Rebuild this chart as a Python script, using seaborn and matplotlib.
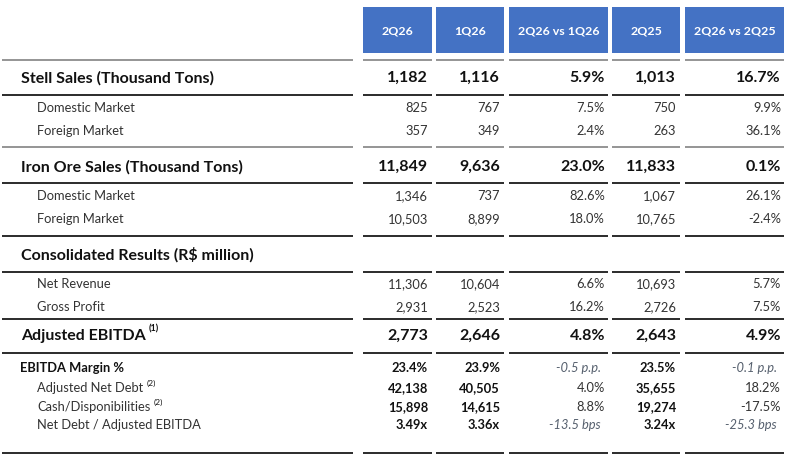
import matplotlib
matplotlib.use("Agg")
import matplotlib.pyplot as plt
import seaborn as sns
from matplotlib.patches import Rectangle

sns.set_theme(style="white")
plt.rcParams['font.family'] = ['Lato', 'DejaVu Sans']

# table content
headers = ['2Q26', '1Q26', '2Q26 vs 1Q26', '2Q25', '2Q26 vs 2Q25']
labels = ['Stell Sales (Thousand Tons)', 'Domestic Market', 'Foreign Market',
          'Iron Ore Sales (Thousand Tons)', 'Domestic Market', 'Foreign Market',
          'Consolidated Results (R$ million)', 'Net Revenue', 'Gross Profit',
          'Adjusted EBITDA', 'EBITDA Margin %', 'Adjusted Net Debt',
          'Cash/Disponibilities', 'Net Debt / Adjusted EBITDA']
notes = ['', '', '', '', '', '', '', '', '', '(1)', '', '(2)', '(2)', '']
kinds = ['section', 'sub', 'sub', 'section', 'sub', 'sub', 'section', 'sub', 'sub',
         'section', 'margin', 'debt', 'debt', 'debt']

q2_26 = ['1,182', '825', '357', '11,849', '1,346', '10,503', '', '11,306', '2,931',
         '2,773', '23.4%', '42,138', '15,898', '3.49x']
q1_26 = ['1,116', '767', '349', '9,636', '737', '8,899', '', '10,604', '2,523',
         '2,646', '23.9%', '40,505', '14,615', '3.36x']
var_q = ['5.9%', '7.5%', '2.4%', '23.0%', '82.6%', '18.0%', '', '6.6%', '16.2%',
         '4.8%', '-0.5 p.p.', '4.0%', '8.8%', '-13.5 bps']
q2_25 = ['1,013', '750', '263', '11,833', '1,067', '10,765', '', '10,693', '2,726',
         '2,643', '23.5%', '35,655', '19,274', '3.24x']
var_y = ['16.7%', '9.9%', '36.1%', '0.1%', '26.1%', '-2.4%', '', '5.7%', '7.5%',
         '4.9%', '-0.1 p.p.', '18.2%', '-17.5%', '-25.3 bps']

# layout (pixels)
row_y = [78, 108, 131, 167, 196, 219, 255, 284, 307, 336, 368, 388, 407, 425]
col_box = [(363, 432), (436, 504), (509, 608), (612, 680), (685, 784)]
label_seg = (2, 353)
rules = [(60, '#8c8c8c'), (95, '#1a1a1a'), (147, '#8c8c8c'), (183, '#1a1a1a'),
         (236, '#1a1a1a'), (272, '#1a1a1a'), (319, '#1a1a1a'), (353, '#1a1a1a'),
         (453, '#1a1a1a')]

blue = '#4472C4'
dark = '#111111'
grey = '#333333'
italic_col = '#56606e'

fig = plt.figure(figsize=(7.9, 4.55), dpi=100)
ax = fig.add_axes([0, 0, 1, 1])
ax.set_xlim(0, 790)
ax.set_ylim(455, 0)
ax.axis('off')

# header boxes
for (x0, x1), h in zip(col_box, headers):
    ax.add_patch(Rectangle((x0, 7), x1 - x0, 46, color=blue, lw=0))
    ax.text((x0 + x1) / 2, 31, h, ha='center', va='center', color='white',
            fontsize=8.9, fontweight='bold')

# horizontal rules
for y, c in rules:
    ax.plot(label_seg, [y, y], color=c, lw=1.3, solid_capstyle='butt')
    for x0, x1 in col_box:
        ax.plot([x0, x1], [y, y], color=c, lw=1.3, solid_capstyle='butt')

fig.canvas.draw()
renderer = fig.canvas.get_renderer()

cols = [q2_26, q1_26, var_q, q2_25, var_y]
is_var = [False, False, True, False, True]

big = 11.5
small = 9.3

for i, lab in enumerate(labels):
    k = kinds[i]
    y = row_y[i]
    if k == 'section':
        t = ax.text(21, y, lab, ha='left', va='center', fontsize=big,
                    fontweight='bold', color=dark)
    elif k == 'margin':
        t = ax.text(20, y, lab, ha='left', va='center', fontsize=small,
                    fontweight='bold', color=dark)
    else:
        t = ax.text(37, y, lab, ha='left', va='center', fontsize=small, color=grey)
    if notes[i]:
        bb = t.get_window_extent(renderer)
        xe = bb.x1
        ax.text(xe + 3, y - (7 if k == 'section' else 5), notes[i], ha='left',
                va='center', fontsize=6.5 if k == 'section' else 6,
                fontweight='bold' if k == 'section' else 'normal', color=dark)

    for c, (vals, var) in enumerate(zip(cols, is_var)):
        v = vals[i]
        if not v:
            continue
        xr = col_box[c][1] - (3 if var else 4)
        if k == 'section':
            ax.text(xr, y, v, ha='right', va='center', fontsize=big,
                    fontweight='bold', color=dark)
        elif k in ('margin', 'debt') and not var:
            ax.text(xr, y, v, ha='right', va='center', fontsize=small,
                    fontweight='bold', color=dark)
        elif 'p.p.' in v or 'bps' in v:
            ax.text(xr - 4, y, v, ha='right', va='center', fontsize=small,
                    style='italic', color=italic_col)
        else:
            ax.text(xr, y, v, ha='right', va='center', fontsize=small, color=grey)

fig.savefig('out.png', dpi=100)
